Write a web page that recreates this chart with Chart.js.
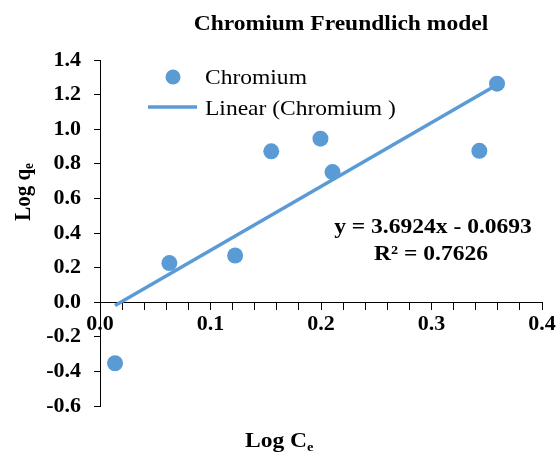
<!DOCTYPE html>
<html>
<head>
<meta charset="utf-8">
<script src="https://cdn.jsdelivr.net/npm/chart.js@4"></script>
<style>
  html, body { margin: 0; padding: 0; background: #fff; }
  canvas { display: block; }
</style>
</head>
<body>
<canvas id="myChart" width="558" height="452"></canvas>
<script>
// data
var logCe = [0.0136, 0.0628, 0.1223, 0.155, 0.1995, 0.2104, 0.3433, 0.3593];
var logQe = [-0.353, 0.226, 0.270, 0.872, 0.945, 0.752, 0.875, 1.263];
var slope = 3.6924;
var intercept = -0.0693;
var r2 = 0.7626;

var seriesName = 'Chromium';
var trendName = 'Linear (Chromium )';
var chartTitle = 'Chromium Freundlich model';

var blue = '#5B9BD5';
var serif = '"Liberation Serif", "Times New Roman", serif';
var sx = 1.12; // reference text looks a bit wide

var points = logCe.map(function (x, i) { return { x: x, y: logQe[i] }; });
var xMin = Math.min.apply(null, logCe);
var xMax = Math.max.apply(null, logCe);
var trend = [
    { x: xMin, y: slope * xMin + intercept },
    { x: xMax, y: slope * xMax + intercept }
];

function txt(ctx, s, x, y, font, align) {
    ctx.save();
    ctx.translate(x, y);
    ctx.scale(sx, 1);
    ctx.font = font;
    ctx.textAlign = align || 'left';
    ctx.textBaseline = 'alphabetic';
    ctx.fillStyle = '#000';
    ctx.fillText(s, 0, 0);
    ctx.restore();
}

// title, legend, equation and axis titles
const textPlugin = {
    id: 'texts',
    afterDraw(chart) {
        const ctx = chart.ctx;
        txt(ctx, chartTitle, 341, 30, 'bold 21px ' + serif, 'center');

        // legend
        ctx.save();
        ctx.fillStyle = blue;
        ctx.beginPath();
        ctx.arc(173, 77, 7.5, 0, Math.PI * 2);
        ctx.fill();
        ctx.strokeStyle = blue;
        ctx.lineWidth = 3.5;
        ctx.beginPath();
        ctx.moveTo(148, 107);
        ctx.lineTo(197, 107);
        ctx.stroke();
        ctx.restore();
        txt(ctx, seriesName, 205, 84, '21px ' + serif);
        txt(ctx, trendName, 205, 115, '21px ' + serif);

        // equation
        var eq = 'y = ' + slope.toFixed(4) + 'x - ' + Math.abs(intercept).toFixed(4);
        txt(ctx, eq, 433, 233, 'bold 21px ' + serif, 'center');
        txt(ctx, 'R\u00B2 = ' + r2.toFixed(4), 431, 260, 'bold 21px ' + serif, 'center');

        // x axis title
        ctx.save();
        ctx.font = 'bold 21px ' + serif;
        var w1 = ctx.measureText('Log C').width * sx;
        ctx.restore();
        txt(ctx, 'Log C', 245, 447, 'bold 21px ' + serif);
        txt(ctx, 'e', 245 + w1, 451, 'bold 13px ' + serif);

        // y axis title (rotated)
        ctx.save();
        ctx.font = 'bold 21px ' + serif;
        var wq = ctx.measureText('Log q').width;
        ctx.font = 'bold 13px ' + serif;
        var we = ctx.measureText('e').width;
        ctx.translate(30, 192 + (wq + we) / 2);
        ctx.rotate(-Math.PI / 2);
        ctx.scale(1, sx);
        ctx.fillStyle = '#000';
        ctx.font = 'bold 21px ' + serif;
        ctx.fillText('Log q', 0, 0);
        ctx.font = 'bold 13px ' + serif;
        ctx.fillText('e', wq, 3);
        ctx.restore();
    }
};

const data = {
    datasets: [
        {
            label: seriesName,
            data: points,
            backgroundColor: blue,
            borderWidth: 0,
            pointRadius: 8,
            pointHoverRadius: 8,
            showLine: false,
            order: 0
        },
        {
            label: trendName,
            data: trend,
            borderColor: blue,
            borderWidth: 3.5,
            pointRadius: 0,
            showLine: true,
            order: 1
        }
    ]
};

const config = {
    type: 'scatter',
    data,
    options: {
        responsive: false,
        animation: false,
        events: [],
        layout: { padding: { left: 0, right: 16, top: 60, bottom: 46 } },
        plugins: {
            legend: { display: false },
            title: { display: false },
            tooltip: { enabled: false }
        },
        scales: {
            x: {
                type: 'linear',
                min: 0,
                max: 0.4,
                position: { y: 0 },
                border: { color: '#000', width: 1 },
                grid: { drawOnChartArea: false, drawTicks: true, tickLength: 7, color: '#000', tickColor: '#000' },
                ticks: {
                    stepSize: 0.02,
                    autoSkip: false,
                    maxRotation: 0,
                    padding: 2,
                    color: '#000',
                    font: { family: serif, size: 22, weight: 'bold' },
                    callback: function (v) {
                        var t = v * 10;
                        return Math.abs(t - Math.round(t)) < 1e-6 ? v.toFixed(1) : '';
                    }
                }
            },
            y: {
                min: -0.6,
                max: 1.4,
                afterFit: function (s) { s.width = 100; },
                border: { color: '#000', width: 1 },
                grid: { drawOnChartArea: false, drawTicks: true, tickLength: 6, color: '#000', tickColor: '#000' },
                ticks: {
                    stepSize: 0.2,
                    padding: 13,
                    color: '#000',
                    font: { family: serif, size: 22, weight: 'bold' },
                    callback: function (v) { return v.toFixed(1); }
                }
            }
        }
    },
    plugins: [textPlugin]
};

const myChart = new Chart(document.getElementById('myChart'), config);
</script>
</body>
</html>
